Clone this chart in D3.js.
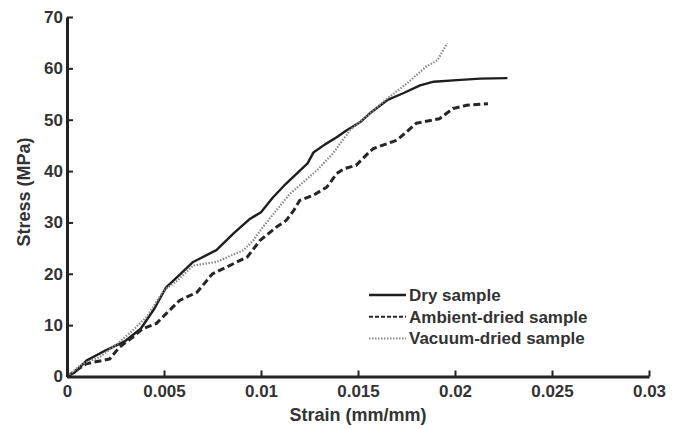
<!DOCTYPE html>
<html>
<head>
<meta charset="utf-8">
<script src="https://cdn.jsdelivr.net/npm/d3@7"></script>
<style>
  body { margin: 0; background: #fff; }
  svg { display: block; }
  text { font-family: "Liberation Sans", Arial, sans-serif; font-weight: bold; fill: #333; }
</style>
</head>
<body>
<svg width="678" height="429"></svg>
<script>
// stress-strain curves: [strain, stress]
const drySample = [
  [0, 0], [0.0004, 0.8], [0.001, 3.1], [0.002, 5.1], [0.003, 6.9], [0.0038, 9.3],
  [0.0045, 13.2], [0.0051, 17.3], [0.0058, 19.8], [0.0065, 22.3], [0.0077, 24.6],
  [0.0086, 27.9], [0.0094, 30.6], [0.01, 32.0], [0.0106, 34.8], [0.0112, 37.2],
  [0.0124, 41.5], [0.0127, 43.6], [0.0133, 45.2], [0.0139, 46.6], [0.0144, 47.9],
  [0.0151, 49.5], [0.0156, 51.2], [0.0165, 53.8], [0.0173, 55.1], [0.0182, 56.7],
  [0.0189, 57.4], [0.0201, 57.7], [0.0213, 58.0], [0.0227, 58.1]
];
const ambientSample = [
  [0, 0], [0.001, 2.5], [0.0022, 3.4], [0.0027, 5.7], [0.0034, 7.7], [0.0039, 9.3],
  [0.0046, 10.3], [0.0051, 12.2], [0.0058, 14.8], [0.0067, 16.4], [0.0075, 20.0],
  [0.0086, 22.0], [0.0093, 23.3], [0.00995, 26.5], [0.0108, 29.1], [0.0113, 30.4],
  [0.0117, 32.4], [0.012, 34.3], [0.0127, 35.3], [0.0134, 36.9], [0.0139, 39.5],
  [0.0143, 40.5], [0.0149, 41.1], [0.0155, 43.4], [0.0158, 44.4], [0.017, 46.0],
  [0.0175, 47.6], [0.018, 49.3], [0.0192, 50.2], [0.0199, 52.2], [0.0206, 52.8],
  [0.0217, 53.1]
];
const vacuumSample = [
  [0, 0], [0.0008, 2.5], [0.0017, 3.8], [0.0026, 6.4], [0.0034, 9.0], [0.0041, 11.6],
  [0.005, 16.8], [0.0057, 18.7], [0.0065, 21.6], [0.0077, 22.3], [0.0091, 24.6],
  [0.0096, 26.5], [0.0101, 29.1], [0.0108, 32.4], [0.0115, 35.6], [0.0129, 40.2],
  [0.0137, 43.4], [0.0146, 48.0], [0.0156, 51.2], [0.0165, 54.1], [0.0175, 57.0],
  [0.0185, 60.3], [0.0191, 61.6], [0.0196, 64.9]
];
const seriesNames = ["Dry sample", "Ambient-dried sample", "Vacuum-dried sample"];
const xTicks = [0, 0.005, 0.01, 0.015, 0.02, 0.025, 0.03];
const xTickLabels = ["0", "0.005", "0.01", "0.015", "0.02", "0.025", "0.03"];
const yTicks = [0, 10, 20, 30, 40, 50, 60, 70];

const svg = d3.select('svg');
const plotLeft = 67, plotRight = 649, plotTop = 17, plotBottom = 376.5;

const x = d3.scaleLinear().domain([0, 0.03]).range([plotLeft, plotRight]);
const y = d3.scaleLinear().domain([0, 70]).range([plotBottom, plotTop]);

// line styles per series
const styles = [
  { data: drySample, stroke: '#1e1e1e', width: 2.4, dash: null },
  { data: ambientSample, stroke: '#262626', width: 3, dash: '7,3.5' },
  { data: vacuumSample, stroke: '#8a8a8a', width: 2.2, dash: '1.5,1.5' }
];

const line = d3.line().x(d => x(d[0])).y(d => y(d[1]));

styles.forEach(s => {
  svg.append('path')
    .attr('d', line(s.data))
    .attr('fill', 'none')
    .attr('stroke', s.stroke)
    .attr('stroke-width', s.width)
    .attr('stroke-dasharray', s.dash)
    .attr('stroke-linejoin', 'round');
});

// axes, ticks pointing inward
const xAxis = d3.axisBottom(x).tickValues(xTicks)
  .tickFormat((d, i) => xTickLabels[i]).tickSizeInner(-6).tickSizeOuter(0).tickPadding(8);
const gx = svg.append('g').attr('transform', `translate(0,${plotBottom})`).call(xAxis);

const yAxis = d3.axisLeft(y).tickValues(yTicks).tickSizeInner(-6).tickSizeOuter(0).tickPadding(4);
const gy = svg.append('g').attr('transform', `translate(${plotLeft},0)`).call(yAxis);

[gx, gy].forEach(g => {
  g.select('.domain').attr('stroke', '#222').attr('stroke-width', 3);
  g.selectAll('.tick line').attr('stroke', '#222').attr('stroke-width', 2);
  g.selectAll('.tick text').style('font-size', '17px').style('font-family', '"Liberation Sans", Arial, sans-serif')
    .style('font-weight', 'bold').attr('fill', '#333');
});

// axis titles
svg.append('text')
  .attr('x', (plotLeft + plotRight) / 2).attr('y', 421)
  .attr('text-anchor', 'middle').style('font-size', '18px')
  .text('Strain (mm/mm)');

svg.append('text')
  .attr('transform', 'translate(30,192) rotate(-90)')
  .attr('text-anchor', 'middle').style('font-size', '18px')
  .text('Stress (MPa)');

// legend
const legend = svg.append('g').attr('transform', 'translate(369,295)');
styles.forEach((s, i) => {
  const row = legend.append('g').attr('transform', `translate(0,${i * 21.7})`);
  row.append('line')
    .attr('x1', 0).attr('x2', 37).attr('y1', 0).attr('y2', 0)
    .attr('stroke', s.stroke)
    .attr('stroke-width', i === 0 ? 2.4 : 2)
    .attr('stroke-dasharray', i === 1 ? '4,2' : (i === 2 ? '1.5,1.5' : null));
  row.append('text')
    .attr('x', 40).attr('y', 6)
    .style('font-size', '17px')
    .text(seriesNames[i]);
});
</script>
</body>
</html>
